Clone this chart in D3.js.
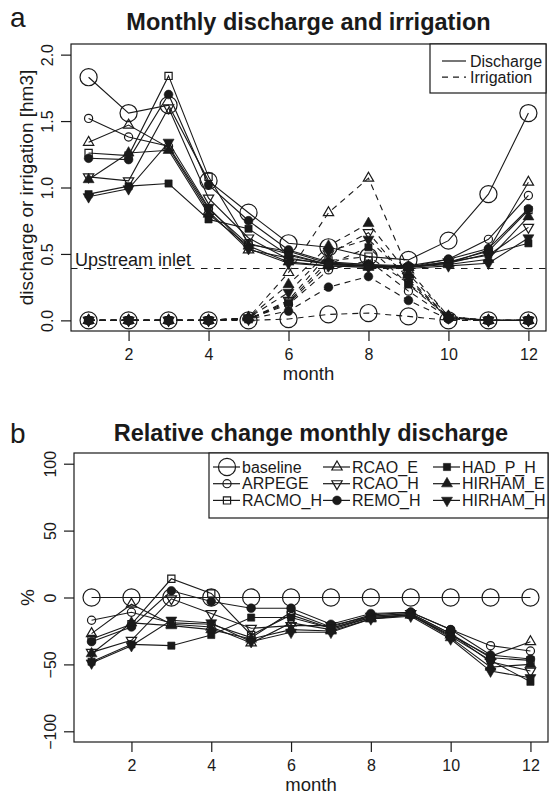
<!DOCTYPE html>
<html>
<head>
<meta charset="utf-8">
<script src="https://cdn.jsdelivr.net/npm/d3@7"></script>
<style>
  body { margin: 0; background: #fff; }
  text { font-family: "Liberation Sans", Arial, Helvetica, sans-serif; fill: #1a1a1a; }
</style>
</head>
<body>
<script>
/*
* Monthly discharge and irrigation (a) and relative change of discharge (b)
* for the baseline and eight climate model runs.
*/

// months on the x axis
var months = [1, 2, 3, 4, 5, 6, 7, 8, 9, 10, 11, 12];

// model runs, in legend order
var modelNames = ["baseline", "ARPEGE", "RACMO_H", "RCAO_E", "RCAO_H",
                  "REMO_H", "HAD_P_H", "HIRHAM_E", "HIRHAM_H"];

// monthly discharge [hm3]
var qBaseline = [1.83, 1.56, 1.62, 1.05, 0.81, 0.58, 0.55, 0.48, 0.455, 0.60, 0.95, 1.56];
var qArpege   = [1.52, 1.38, 1.31, 0.84, 0.57, 0.52, 0.43, 0.42, 0.41, 0.46, 0.61, 0.94];
var qRacmoH   = [1.26, 1.24, 1.84, 1.08, 0.58, 0.50, 0.42, 0.41, 0.40, 0.44, 0.52, 0.83];
var qRcaoE    = [1.34, 1.47, 1.30, 0.82, 0.53, 0.47, 0.42, 0.41, 0.40, 0.43, 0.53, 1.04];
var qRcaoH    = [1.08, 1.05, 1.60, 0.92, 0.62, 0.46, 0.43, 0.41, 0.40, 0.44, 0.49, 0.70];
var qRemoH    = [1.22, 1.21, 1.70, 1.02, 0.75, 0.53, 0.44, 0.42, 0.40, 0.46, 0.54, 0.84];
var qHadPH    = [0.95, 1.01, 1.03, 0.76, 0.69, 0.49, 0.42, 0.41, 0.40, 0.43, 0.50, 0.58];
var qHirhamE  = [1.06, 1.26, 1.28, 0.80, 0.56, 0.44, 0.41, 0.40, 0.40, 0.42, 0.46, 0.78];
var qHirhamH  = [0.93, 0.99, 1.34, 0.85, 0.54, 0.43, 0.41, 0.40, 0.39, 0.41, 0.43, 0.62];

// monthly irrigation [hm3]
var irBaseline = [0, 0, 0, 0, 0, 0.01, 0.045, 0.055, 0.03, 0, 0, 0];
var irArpege   = [0, 0, 0, 0, 0.01, 0.12, 0.38, 0.45, 0.22, 0.02, 0, 0];
var irRacmoH   = [0, 0, 0, 0, 0.01, 0.14, 0.45, 0.48, 0.28, 0.02, 0, 0];
var irRcaoE    = [0, 0, 0, 0, 0.02, 0.36, 0.81, 1.07, 0.38, 0.03, 0, 0];
var irRcaoH    = [0, 0, 0, 0, 0.01, 0.15, 0.50, 0.66, 0.30, 0.02, 0, 0];
var irRemoH    = [0, 0, 0, 0, 0.01, 0.07, 0.25, 0.33, 0.15, 0.01, 0, 0];
var irHadPH    = [0, 0, 0, 0, 0.01, 0.13, 0.42, 0.55, 0.27, 0.02, 0, 0];
var irHirhamE  = [0, 0, 0, 0, 0.02, 0.27, 0.56, 0.73, 0.35, 0.03, 0, 0];
var irHirhamH  = [0, 0, 0, 0, 0.02, 0.21, 0.52, 0.61, 0.32, 0.02, 0, 0];

// relative change of monthly discharge [%]
var rcBaseline = [0, 0, 0, 0, 0, 0, 0, 0, 0, 0, 0, 0];
var rcArpege   = [-17, -11, -19, -20, -30, -11, -22, -13, -11, -24, -36, -40];
var rcRacmoH   = [-31, -20, 14, 3, -28, -13, -23, -14, -12, -27, -45, -47];
var rcRcaoE    = [-27, -5, -20, -22, -34, -19, -24, -15, -13, -28, -44, -33];
var rcRcaoH    = [-41, -32, -1, -12, -23, -21, -21, -14, -12, -27, -48, -55];
var rcRemoH    = [-33, -22, 5, -3, -8, -8, -20, -12, -11, -24, -43, -46];
var rcHadPH    = [-48, -35, -36, -28, -15, -15, -23, -15, -13, -29, -47, -63];
var rcHirhamE  = [-42, -19, -21, -24, -31, -24, -25, -16, -13, -30, -52, -50];
var rcHirhamH  = [-49, -36, -17, -19, -33, -26, -26, -16, -14, -31, -55, -60];

// upstream inlet level [hm3]
var upstreamInlet = 0.39;

// tick values
var monthTicks = [2, 4, 6, 8, 10, 12];
var dischargeTicks = [0, 0.5, 1, 1.5, 2];
var changeTicks = [-100, -50, 0, 50, 100];

// series tables in modelNames order
var discharge  = [qBaseline, qArpege, qRacmoH, qRcaoE, qRcaoH, qRemoH, qHadPH, qHirhamE, qHirhamH];
var irrigation = [irBaseline, irArpege, irRacmoH, irRcaoE, irRcaoH, irRemoH, irHadPH, irHirhamE, irHirhamH];
var relChange  = [rcBaseline, rcArpege, rcRacmoH, rcRcaoE, rcRcaoH, rcRemoH, rcHadPH, rcHirhamE, rcHirhamH];

var ink = "#1a1a1a";

// plotting symbol of every model run
var markerStyle = {
  "baseline": {type: d3.symbolCircle,   size: 230, filled: false},
  "ARPEGE":   {type: d3.symbolCircle,   size: 52,  filled: false},
  "RACMO_H":  {type: d3.symbolSquare,   size: 52,  filled: false},
  "RCAO_E":   {type: d3.symbolTriangle, size: 46,  filled: false},
  "RCAO_H":   {type: d3.symbolTriangle, size: 46,  filled: false, down: true},
  "REMO_H":   {type: d3.symbolCircle,   size: 60,  filled: true},
  "HAD_P_H":  {type: d3.symbolSquare,   size: 52,  filled: true},
  "HIRHAM_E": {type: d3.symbolTriangle, size: 52,  filled: true},
  "HIRHAM_H": {type: d3.symbolTriangle, size: 52,  filled: true, down: true}
};

var svg = d3.select("body")
  .append("svg")
  .attr("width", 549)
  .attr("height", 795);

/*
* Draws one symbol at a position.
*/
function drawMarker(g, name, cx, cy) {
  var s = markerStyle[name];
  g.append("path")
    .attr("d", d3.symbol().type(s.type).size(s.size)())
    .attr("transform", "translate(" + cx + "," + cy + ")" + (s.down ? " rotate(180)" : ""))
    .attr("fill", s.filled ? ink : "none")
    .attr("stroke", ink)
    .attr("stroke-width", s.filled ? 0.6 : 1.2);
}

/*
* Draws a box, axes and labels; returns the scales.
*/
function makeFrame(box, yDomain, yTicks, yFormat, yLabel, yLabelOffset, title, titleY, letter, letterY) {
  var x = d3.scaleLinear().domain([0.56, 12.44]).range([box.left, box.right]);
  var y = d3.scaleLinear().domain(yDomain).range([box.bottom, box.top]);

  // x axis
  var gx = svg.append("g")
    .attr("transform", "translate(0," + box.bottom + ")")
    .call(d3.axisBottom(x).tickValues(monthTicks).tickSize(10).tickFormat(d3.format("d")));
  gx.select(".domain").remove();
  gx.attr("font-size", 16).attr("font-family", null);
  gx.selectAll(".tick line").attr("stroke", ink).attr("stroke-width", 1.2);
  gx.selectAll(".tick text").attr("y", 28.5).attr("dy", "0").attr("fill", ink);

  // y axis with labels parallel to the axis
  var gy = svg.append("g")
    .attr("transform", "translate(" + box.left + ",0)")
    .call(d3.axisLeft(y).tickValues(yTicks).tickSize(10).tickFormat(yFormat));
  gy.select(".domain").remove();
  gy.attr("font-size", 16).attr("font-family", null);
  gy.selectAll(".tick line").attr("stroke", ink).attr("stroke-width", 1.2);
  gy.selectAll(".tick text")
    .attr("x", 0)
    .attr("dy", "0")
    .attr("text-anchor", "middle")
    .attr("transform", "translate(-18,0) rotate(-90)")
    .attr("fill", ink);

  // frame
  svg.append("rect")
    .attr("x", box.left)
    .attr("y", box.top)
    .attr("width", box.right - box.left)
    .attr("height", box.bottom - box.top)
    .attr("fill", "none")
    .attr("stroke", ink)
    .attr("stroke-width", 1.2);

  // axis titles
  svg.append("text")
    .attr("x", (box.left + box.right) / 2)
    .attr("y", box.bottom + 49)
    .attr("text-anchor", "middle")
    .style("font-size", "18.5px")
    .text("month");

  svg.append("text")
    .attr("transform", "translate(" + (box.left + yLabelOffset) + "," + ((box.top + box.bottom) / 2) + ") rotate(-90)")
    .attr("text-anchor", "middle")
    .style("font-size", "19px")
    .text(yLabel);

  // panel title and letter
  svg.append("text")
    .attr("x", (box.left + box.right) / 2)
    .attr("y", titleY)
    .attr("text-anchor", "middle")
    .style("font-size", "23.5px")
    .style("font-weight", "bold")
    .text(title);

  svg.append("text")
    .attr("x", 10)
    .attr("y", letterY)
    .style("font-size", "28px")
    .text(letter);

  return {x: x, y: y};
}

/*
* Draws the series of a table as lines with symbols.
*/
function drawSeries(sc, table, dash) {
  var line = d3.line()
    .x(function(d, i) { return sc.x(months[i]); })
    .y(function(d) { return sc.y(d); });

  table.forEach(function(values, k) {
    svg.append("path")
      .datum(values)
      .attr("d", line)
      .attr("fill", "none")
      .attr("stroke", ink)
      .attr("stroke-width", 1.1)
      .attr("stroke-dasharray", dash);

    var g = svg.append("g");
    values.forEach(function(v, i) {
      drawMarker(g, modelNames[k], sc.x(months[i]), sc.y(v));
    });
  });
}

// ---------- panel a ----------
var boxA = {left: 71, right: 546, top: 44, bottom: 331};
var a = makeFrame(boxA, [-0.08, 2.08], dischargeTicks, d3.format(".1f"),
                  "discharge or irrigation [hm3]", -38,
                  "Monthly discharge and irrigation", 29.5, "a", 27);

// upstream inlet line
svg.append("line")
  .attr("x1", boxA.left)
  .attr("x2", boxA.right)
  .attr("y1", a.y(upstreamInlet))
  .attr("y2", a.y(upstreamInlet))
  .attr("stroke", ink)
  .attr("stroke-width", 1.1)
  .attr("stroke-dasharray", "6.5,6.5");

svg.append("text")
  .attr("x", boxA.left + 4)
  .attr("y", a.y(upstreamInlet) - 3)
  .style("font-size", "18px")
  .text("Upstream inlet");

drawSeries(a, discharge, null);
drawSeries(a, irrigation, "6,5");

// legend of line types
var legA = {left: 430, top: 44, right: boxA.right, bottom: 93};
svg.append("rect")
  .attr("x", legA.left)
  .attr("y", legA.top)
  .attr("width", legA.right - legA.left)
  .attr("height", legA.bottom - legA.top)
  .attr("fill", "#fff")
  .attr("stroke", ink)
  .attr("stroke-width", 1.2);

[["Discharge", null], ["Irrigation", "6,5"]].forEach(function(item, i) {
  var yy = legA.top + 17 + i * 16.2;
  svg.append("line")
    .attr("x1", legA.left + 12)
    .attr("x2", legA.left + 36)
    .attr("y1", yy)
    .attr("y2", yy)
    .attr("stroke", ink)
    .attr("stroke-width", 1.2)
    .attr("stroke-dasharray", item[1]);
  svg.append("text")
    .attr("x", legA.left + 40)
    .attr("y", yy + 5.5)
    .style("font-size", "16px")
    .text(item[0]);
});

// ---------- panel b ----------
var boxB = {left: 74, right: 548, top: 453, bottom: 742};
var b = makeFrame(boxB, [-108, 108], changeTicks, d3.format("d"),
                  "%", -40,
                  "Relative change monthly discharge", 441, "b", 443);

drawSeries(b, relChange, null);

// legend of model runs, three columns
var legB = {left: 209, top: boxB.top, right: boxB.right, bottom: 518};
svg.append("rect")
  .attr("x", legB.left)
  .attr("y", legB.top)
  .attr("width", legB.right - legB.left)
  .attr("height", legB.bottom - legB.top)
  .attr("fill", "#fff")
  .attr("stroke", ink)
  .attr("stroke-width", 1.2);

var legendG = svg.append("g");
modelNames.forEach(function(name, i) {
  var col = Math.floor(i / 3);
  var row = i % 3;
  var cx = legB.left + 18 + col * 110;
  var cy = legB.top + 14 + row * 16.7;
  legendG.append("line")
    .attr("x1", cx - 14)
    .attr("x2", cx + 13)
    .attr("y1", cy)
    .attr("y2", cy)
    .attr("stroke", ink)
    .attr("stroke-width", 1.2);
  drawMarker(legendG, name, cx, cy);
  legendG.append("text")
    .attr("x", cx + 15)
    .attr("y", cy + 5.5)
    .style("font-size", "16px")
    .text(name);
});
</script>
</body>
</html>
